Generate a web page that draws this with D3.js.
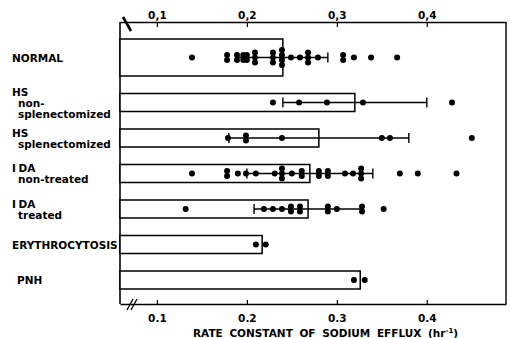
<!DOCTYPE html>
<html>
<head>
<meta charset="utf-8">
<script src="https://cdn.jsdelivr.net/npm/d3@7"></script>
<style>
  html, body { margin: 0; padding: 0; background: #fff; }
  svg { display: block; }
</style>
</head>
<body>
<script>
// --- data ---
const categories = ["NORMAL", "HS non-splenectomized", "HS splenectomized",
  "IDA non-treated", "IDA treated", "ERYTHROCYTOSIS", "PNH"];
const labelLines = [["NORMAL"], ["HS", "non-", "splenectomized"], ["HS", "splenectomized"],
  ["IDA", "non-treated"], ["IDA", "treated"], ["ERYTHROCYTOSIS"], ["PNH"]];
const means = [0.24, 0.32, 0.28, 0.27, 0.268, 0.217, 0.326];
const sds = [0.05, 0.08, 0.10, 0.07, 0.06, null, null];
const points = [
  [0.139, 0.178, 0.178, 0.189, 0.189, 0.196, 0.196, 0.2, 0.2, 0.209, 0.209, 0.209,
   0.229, 0.229, 0.229, 0.239, 0.239, 0.239, 0.239, 0.249, 0.259, 0.268, 0.268, 0.268,
   0.279, 0.307, 0.307, 0.319, 0.338, 0.367],
  [0.229, 0.258, 0.289, 0.329, 0.428],
  [0.179, 0.199, 0.199, 0.239, 0.35, 0.359, 0.45],
  [0.139, 0.178, 0.178, 0.19, 0.199, 0.21, 0.231, 0.239, 0.239, 0.239, 0.25, 0.261, 0.261,
   0.28, 0.28, 0.29, 0.29, 0.309, 0.318, 0.327, 0.327, 0.327, 0.37, 0.39, 0.433],
  [0.132, 0.219, 0.229, 0.239, 0.249, 0.249, 0.259, 0.259, 0.29, 0.29, 0.3, 0.328, 0.328, 0.352],
  [0.21, 0.221],
  [0.319, 0.331]
];
const tickValues = [0.1, 0.2, 0.3, 0.4];
const topTickLabels = ["0,1", "0,2", "0,3", "0,4"];
const bottomTickLabels = ["0.1", "0.2", "0.3", "0.4"];

// --- layout ---
const W = 510, H = 338;
const plotLeft = 120, plotRight = 506, plotTop = 22, plotBottom = 304;
const font = "'DejaVu Sans', sans-serif";

const x = d3.scaleLinear().domain([0.059, 0.488]).range([plotLeft, plotRight]);

// row geometry: NORMAL bar is drawn twice as tall
const rowTop0 = 39, barH = 18, gap = 17.5;
const rows = [];
let yCur = rowTop0;
categories.forEach((c, i) => {
  const h = i === 0 ? 37 : barH;
  rows.push({ cat: c, i, y0: yCur, h, cy: yCur + h / 2 });
  yCur += h + gap;
});

const svg = d3.select("body").append("svg")
  .attr("width", W).attr("height", H)
  .attr("viewBox", [0, 0, W, H])
  .style("background", "#fff");

// frame sides
svg.append("line").attr("x1", plotLeft).attr("x2", plotLeft).attr("y1", plotTop).attr("y2", plotBottom)
  .attr("stroke", "#000").attr("stroke-width", 1.6);
svg.append("line").attr("x1", plotRight).attr("x2", plotRight).attr("y1", plotTop).attr("y2", plotBottom)
  .attr("stroke", "#000").attr("stroke-width", 1.4);

// top axis
const topAxis = svg.append("g")
  .attr("transform", `translate(0,${plotTop})`)
  .call(d3.axisTop(x).tickValues(tickValues).tickSizeInner(-5).tickSizeOuter(0)
    .tickPadding(3).tickFormat((d, i) => topTickLabels[i]));

// bottom axis
const bottomAxis = svg.append("g")
  .attr("transform", `translate(0,${plotBottom})`)
  .call(d3.axisBottom(x).tickValues(tickValues).tickSizeInner(-4).tickSizeOuter(0)
    .tickPadding(11).tickFormat((d, i) => bottomTickLabels[i]));

[topAxis, bottomAxis].forEach(g => {
  g.select(".domain").attr("stroke-width", 1.6);
  g.selectAll(".tick line").attr("stroke-width", 1.2);
  g.selectAll(".tick text")
    .style("font-family", font).style("font-size", "10.5px").style("font-weight", "bold")
    .attr("fill", "#000");
});

// axis break marks
svg.append("line").attr("x1", 123).attr("y1", 17).attr("x2", 131).attr("y2", 31)
  .attr("stroke", "#000").attr("stroke-width", 2.6);
[0, 4].forEach(dx => {
  svg.append("line").attr("x1", 127 + dx).attr("y1", 310).attr("x2", 133 + dx).attr("y2", 299)
    .attr("stroke", "#000").attr("stroke-width", 1.3);
});

// bars
const rowG = svg.selectAll("g.row").data(rows).join("g").attr("class", "row");

rowG.append("rect")
  .attr("x", plotLeft)
  .attr("y", d => d.y0)
  .attr("width", d => x(means[d.i]) - plotLeft)
  .attr("height", d => d.h)
  .attr("fill", "#fff")
  .attr("stroke", "#000")
  .attr("stroke-width", 1.5);

// error bars (mean ± SD)
rowG.filter(d => sds[d.i] != null).each(function (d) {
  const g = d3.select(this);
  const lo = x(means[d.i] - sds[d.i]), hi = x(means[d.i] + sds[d.i]);
  g.append("line").attr("x1", lo).attr("x2", hi).attr("y1", d.cy).attr("y2", d.cy)
    .attr("stroke", "#000").attr("stroke-width", 1.4);
  [lo, hi].forEach(px => {
    g.append("line").attr("x1", px).attr("x2", px).attr("y1", d.cy - 5).attr("y2", d.cy + 5)
      .attr("stroke", "#000").attr("stroke-width", 1.4);
  });
});

// individual values, stacked vertically where they coincide
rowG.each(function (d) {
  const counts = d3.rollup(points[d.i], v => v.length, v => v);
  const seen = new Map();
  const dots = points[d.i].map(v => {
    const k = seen.get(v) || 0;
    seen.set(v, k + 1);
    const n = counts.get(v);
    return { v, off: (k - (n - 1) / 2) * 5 };
  });
  d3.select(this).selectAll("circle").data(dots).join("circle")
    .attr("cx", p => x(p.v))
    .attr("cy", p => d.cy + p.off)
    .attr("r", 3)
    .attr("fill", "#000");
});

// category labels
const indent = { PNH: 5 };
rowG.each(function (d) {
  const lines = labelLines[d.i];
  const n = lines.length;
  const t = d3.select(this).append("text")
    .style("font-family", font).style("font-size", "10.5px").style("font-weight", "bold")
    .attr("fill", "#000");
  lines.forEach((s, k) => {
    const sp = t.append("tspan")
      .attr("x", (k === 0 ? 12 : 18) + (indent[d.cat] || 0))
      .attr("y", d.cy + (k - (n - 1) / 2) * 11 + 4);
    if (s === "IDA") {
      // the print sets a visible gap after the "I"
      sp.text("I");
      t.append("tspan").attr("dx", 2.5).text("DA");
    } else {
      sp.text(s);
    }
  });
});

// x axis title
const title = svg.append("text")
  .attr("x", 193).attr("y", 337)
  .style("font-family", font).style("font-size", "10.5px").style("font-weight", "bold")
  .style("word-spacing", "3px")
  .attr("fill", "#000");
title.append("tspan").text("RATE CONSTANT OF SODIUM EFFLUX (hr");
title.append("tspan").attr("dy", -4).style("font-size", "7px").text("-1");
title.append("tspan").attr("dy", 4).text(")");
</script>
</body>
</html>
